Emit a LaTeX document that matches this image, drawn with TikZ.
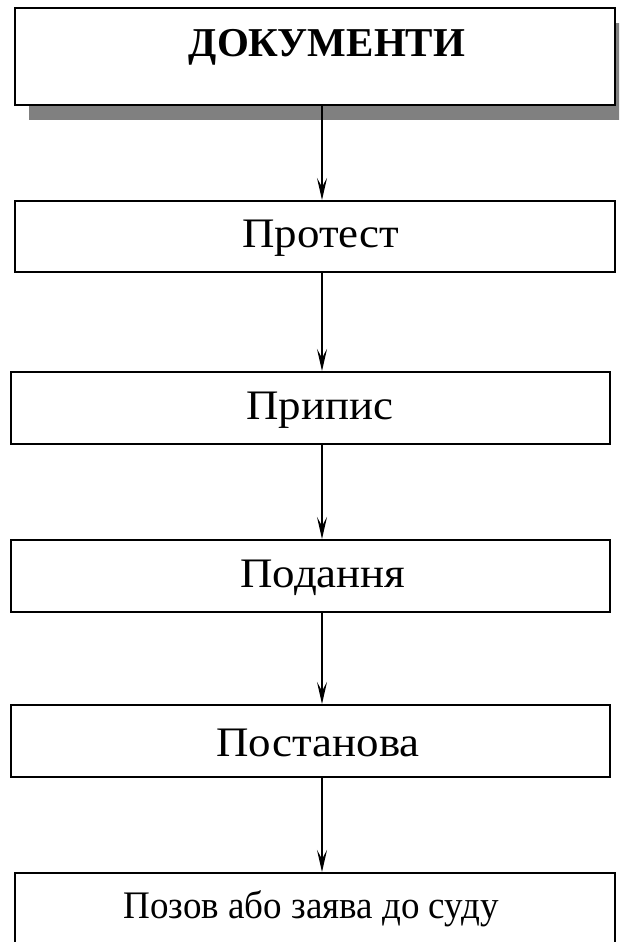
\documentclass[tikz,border=0pt]{standalone}
\usepackage{fontspec}
\setmainfont{Liberation Serif}
\usetikzlibrary{arrows.meta}
\newcommand{\wide}[1]{\scalebox{1.07}[1]{#1}}
\begin{document}
\begin{tikzpicture}[x=1pt,y=-1pt,
  boxst/.style={draw=black, line width=2pt, fill=white, inner sep=0pt},
  arr/.style={line width=1.3pt, -{Stealth[length=22pt,width=10pt,inset=9pt]}},
  lbl/.style={font=\fontsize{39}{44}\selectfont},
  biglbl/.style={font=\fontsize{42}{47}\selectfont}
]
\useasboundingbox (0,0) rectangle (619,942);
\begin{scope}
\clip (0,0) rectangle (619,942);
% shadow
\fill[black!50] (29,23) rectangle (640,120);
\node[boxst, minimum width=600pt, minimum height=97pt, anchor=north west] (doc) at (14,7) {};
\node[font=\fontsize{41}{46}\selectfont\bfseries] (doct) at (327,47) {ДОКУМЕНТИ};
\node[boxst, minimum width=600pt, minimum height=71pt, anchor=north west] (p1) at (14,200) {};
\node[biglbl] (t1) at (321,238) {\wide{Протест}};
\node[boxst, minimum width=599pt, minimum height=72pt, anchor=north west] (p2) at (10,371) {};
\node[biglbl] (t2) at (320,410) {\wide{Припис}};
\node[boxst, minimum width=599pt, minimum height=72pt, anchor=north west] (p3) at (10,539) {};
\node[biglbl] (t3) at (323,578) {\wide{Подання}};
\node[boxst, minimum width=599pt, minimum height=72pt, anchor=north west] (p4) at (10,704) {};
\node[biglbl] (t4) at (318,743) {\wide{Постанова}};
\node[boxst, minimum width=600pt, minimum height=90pt, anchor=north west] (p5) at (14,872) {};
\node[lbl] (t5) at (311,909) {\scalebox{0.95}[1]{Позов або заява до суду}};
\draw[arr] (322,104) coordinate (a0) -- (a0 |- p1.north);
\draw[arr] (322,271) coordinate (a1) -- (a1 |- p2.north);
\draw[arr] (322,443) coordinate (a2) -- (a2 |- p3.north);
\draw[arr] (322,611) coordinate (a3) -- (a3 |- p4.north);
\draw[arr] (322,776) coordinate (a4) -- (a4 |- p5.north);
\end{scope}
\end{tikzpicture}
\end{document}
